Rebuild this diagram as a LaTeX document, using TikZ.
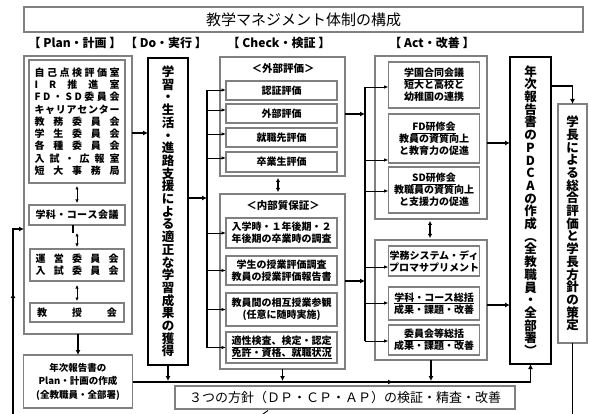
\documentclass[tikz,border=0pt]{standalone}
\usepackage{fontspec}
\setmainfont{Noto Sans CJK JP}
\usetikzlibrary{arrows.meta}
\def\distrowA#1#2\distrowEnd{#1\ifx\relax#2\relax\else\hfill\distrowA#2\distrowEnd\fi}
\newcommand\distrow[2][85pt]{\hbox to #1{\distrowA#2\distrowEnd}}
\tikzset{
  gbox/.style={draw=black!50, line width=1.1pt, fill=white, inner sep=0pt, outer sep=0pt, rectangle},
  kbox/.style={draw=black, line width=1.4pt, fill=white, inner sep=0pt, outer sep=0pt, rectangle},
  btxt/.style={font=\fontsize{10}{12}\selectfont\bfseries, align=center},
  hdr/.style={font=\fontsize{12}{12}\selectfont\bfseries, inner sep=0pt},
  vtxt/.style={font=\fontsize{12.5}{12.7}\selectfont\bfseries, align=center},
  thk/.style={line width=1.8pt, -{Latex[length=5pt,width=5pt]}},
  thkline/.style={line width=1.8pt},
  trunk/.style={line width=1.4pt},
  thinarr/.style={line width=0.9pt, -{Latex[length=4.5pt,width=3.5pt]}},
  dbl/.style={line width=0.9pt, {Latex[length=3.5pt,width=3.5pt]}-{Latex[length=3.5pt,width=3.5pt]}},
  dblk/.style={line width=1.5pt, {Latex[length=4pt,width=4.5pt]}-{Latex[length=4pt,width=4.5pt]}},
}
\begin{document}
\begin{tikzpicture}[x=1pt,y=-1pt]
\useasboundingbox (0,0) rectangle (589,414);
% title
\node[gbox, minimum width=559pt, minimum height=25pt, font=\fontsize{15}{15}\selectfont] (title) at (303.5,19.5) {教学マネジメント体制の構成};
% headers
\node[hdr] (hplan) at (75,43) {【 Plan・計画 】};
\node[hdr] (hdo) at (166,43) {【 Do・実行 】};
\node[hdr] (hcheck) at (279,43) {【 Check・検証 】};
\node[hdr] (hact) at (432,43) {【 Act・改善 】};
% ---------- Plan ----------
\node[gbox, minimum width=108pt, minimum height=278pt] (plo) at (78,195) {};
\node[gbox, minimum width=96pt, minimum height=123pt, font=\fontsize{10}{12.25}\selectfont\bfseries, align=center] (pin) at (77,121.5)
 {\distrow{自己点検評価室}\\\distrow{IR推進室}\\\distrow{FD・SD委員会}\\\distrow{キャリアセンター}\\\distrow{教務委員会}\\\distrow{学生委員会}\\\distrow{各種委員会}\\\distrow{入試・広報室}\\\distrow{短大事務局}};
\node[gbox, minimum width=96pt, minimum height=20pt, btxt] (gakka) at (77,215) {\distrow[83pt]{学科・コース会議}};
\node[gbox, minimum width=94pt, minimum height=32pt, btxt] (unei) at (77,265) {\distrow[83pt]{運営委員会}\\\distrow[83pt]{入試委員会}};
\node[gbox, minimum width=94pt, minimum height=19pt, btxt] (kyo) at (77,312.5) {\distrow[80pt]{教授会}};
\node[gbox, minimum width=109pt, minimum height=53pt, font=\fontsize{9.5}{13.5}\selectfont\bfseries, align=center] (nplan) at (78,381.5) {年次報告書の\\Plan・計画の作成\\(全教職員・全部署)};
% ---------- Do ----------
\node[kbox, minimum width=40pt, minimum height=307pt, vtxt] (do) at (168,211.5)
 {学\\習\\・\\生\\活\\・\\進\\路\\支\\援\\に\\よ\\る\\適\\正\\な\\学\\習\\成\\果\\の\\獲\\得};
% ---------- Check ----------
\node[gbox, minimum width=125pt, minimum height=119pt] (cext) at (282.5,116.5) {};
\node[font=\fontsize{10.5}{10.5}\selectfont\bfseries, inner sep=0pt] (cextt) at (283,69) {＜外部評価＞};
\node[gbox, btxt, minimum width=111pt, minimum height=19pt] (c1) at (281.5,90.5) {認証評価};
\node[gbox, btxt, minimum width=111pt, minimum height=19pt] (c2) at (281.5,113.5) {外部評価};
\node[gbox, btxt, minimum width=111pt, minimum height=19pt] (c3) at (281.5,137.5) {就職先評価};
\node[gbox, btxt, minimum width=111pt, minimum height=20pt] (c4) at (281.5,162) {卒業生評価};
\node[gbox, minimum width=125pt, minimum height=175pt] (cint) at (282.5,281.5) {};
\node[font=\fontsize{10.5}{10.5}\selectfont\bfseries, inner sep=0pt] (cintt) at (283,206) {＜内部質保証＞};
\node[gbox, btxt, minimum width=111pt, minimum height=30pt] (c5) at (281.5,233) {入学時・１年後期・２\\年後期の卒業時の調査};
\node[gbox, btxt, minimum width=111pt, minimum height=29pt] (c6) at (281.5,270.5) {学生の授業評価調査\\教員の授業評価報告書};
\node[gbox, btxt, minimum width=111pt, minimum height=33pt] (c7) at (281.5,309.5) {教員間の相互授業参観\\(任意に随時実施)};
\node[gbox, btxt, minimum width=111pt, minimum height=31pt] (c8) at (281.5,347.5) {\underline{適性検査、検定・認定}\\\underline{免許・資格、就職状況}};
% ---------- Act ----------
\node[gbox, minimum width=112pt, minimum height=163pt] (aup) at (431,137.5) {};
\node[gbox, btxt, minimum width=91pt, minimum height=46pt] (a1) at (434,85) {\underline{学園合同会議}\\短大と高校と\\幼稚園の連携};
\node[gbox, btxt, minimum width=91pt, minimum height=49pt] (a2) at (434,138.5) {\underline{FD研修会}\\教員の資質向上\\と教育力の促進};
\node[gbox, btxt, minimum width=91pt, minimum height=46pt] (a3) at (434,190) {\underline{SD研修会}\\教職員の資質向上\\と支援力の促進};
\node[gbox, minimum width=112pt, minimum height=120pt] (alow) at (431,300) {};
\node[gbox, btxt, minimum width=91pt, minimum height=30pt] (a4) at (434,261) {学務システム・ディ\\プロマサプリメント};
\node[gbox, btxt, minimum width=91pt, minimum height=33pt] (a5) at (434,303.5) {\underline{学科・コース総括}\\成果・課題・改善};
\node[gbox, btxt, minimum width=91pt, minimum height=30pt] (a6) at (434,340) {\underline{委員会等総括}\\成果・課題・改善};
% ---------- PDCA / President ----------
\node[kbox, minimum width=41pt, minimum height=307pt, vtxt] (pdca) at (530.5,210.5)
 {年\\次\\報\\告\\書\\の\\P\\D\\C\\A\\の\\作\\成\\︵\\全\\教\\職\\員\\・\\全\\部\\署\\︶};
\node[gbox, minimum width=29pt, minimum height=239pt, vtxt] (gak) at (572.5,223.5)
 {学\\長\\に\\よ\\る\\総\\合\\評\\価\\と\\学\\長\\方\\針\\の\\策\\定};
% ---------- policies ----------
\node[gbox, minimum width=340pt, minimum height=23pt, font=\fontsize{13}{13}\selectfont] (hoshin) at (345,397.5) {３つの方針（ＤＰ・ＣＰ・ＡＰ）の検証・精査・改善};
% ---------- connectors ----------
% left loop
\draw[thk] (13,414) -- (13,293);
\draw[thk] (13,297) -- (13,229) -- (plo.west |- 0,229);
% plan -> do
\draw[thk] (plo.east |- 0,133) -- (do.west |- 0,133);
% plan internal
\draw[dbl, shorten <=3pt, shorten >=2pt] (pin.south) -- (gakka.north);
\draw[line width=2pt] ([xshift=-4pt]gakka.south) -- ++(0,8);
\draw[dbl, shorten <=8pt, shorten >=2pt] (gakka.south) -- (unei.north);
\draw[dbl, shorten <=4pt, shorten >=2pt] (unei.south) -- (kyo.north);
\draw[thk] (plo.south) -- (nplan.north);
% do -> check
\draw[trunk] (207,90) -- (207,347.5);
\draw[thk] (do.east |- 0,198) -- (207,198);
\foreach \n/\y in {c1/90, c2/110, c3/134, c4/158, c5/233, c6/270.5, c7/309.5, c8/347.5}
  \draw[thinarr] (207,\y) -- (\n.west |- 0,\y);
\draw[dblk, shorten <=2pt, shorten >=2pt] (cext.south -| 278,0) -- (cint.north -| 278,0);
% check -> act
\draw[trunk] (365,87) -- (365,341);
\draw[thk] (cext.east |- 0,114) -- (365,114);
\draw[thk] (cint.east |- 0,281) -- (365,281);
\foreach \n/\y in {a1/87, a2/160, a3/191, a4/267, a5/303, a6/341}
  \draw[thinarr] (365,\y) -- (\n.west |- 0,\y);
\draw[dblk, shorten <=2pt, shorten >=2pt] (aup.south -| 430,0) -- (alow.north -| 430,0);
% act -> pdca
\draw[thk] (aup.east |- 0,143) -- (pdca.west |- 0,143);
\draw[thk] (alow.east |- 0,305) -- (pdca.west |- 0,305);
% pdca -> president
\draw[thk] (pdca.east |- 0,86) -| (gak.north);
\draw[thkline] (gak.south) -- (gak.south |- 0,414);
% bottom bus
\draw[thk] (nplan.east |- 0,382) -- (393,382);
\draw[thkline] (388,382) -- (pdca.south |- 0,382);
\draw[thk] (pdca.south |- 0,382) -- (pdca.south);
\draw[thk] (do.south) -- (do.south |- 0,381);
\draw[thk] (cint.south) -- (cint.south |- 0,381);
\draw[thk] (alow.south) -- (alow.south |- 0,381);
% small stroke at bottom
\draw[line width=0.9pt] (263,414) -- (268,410.5);
\end{tikzpicture}
\end{document}
